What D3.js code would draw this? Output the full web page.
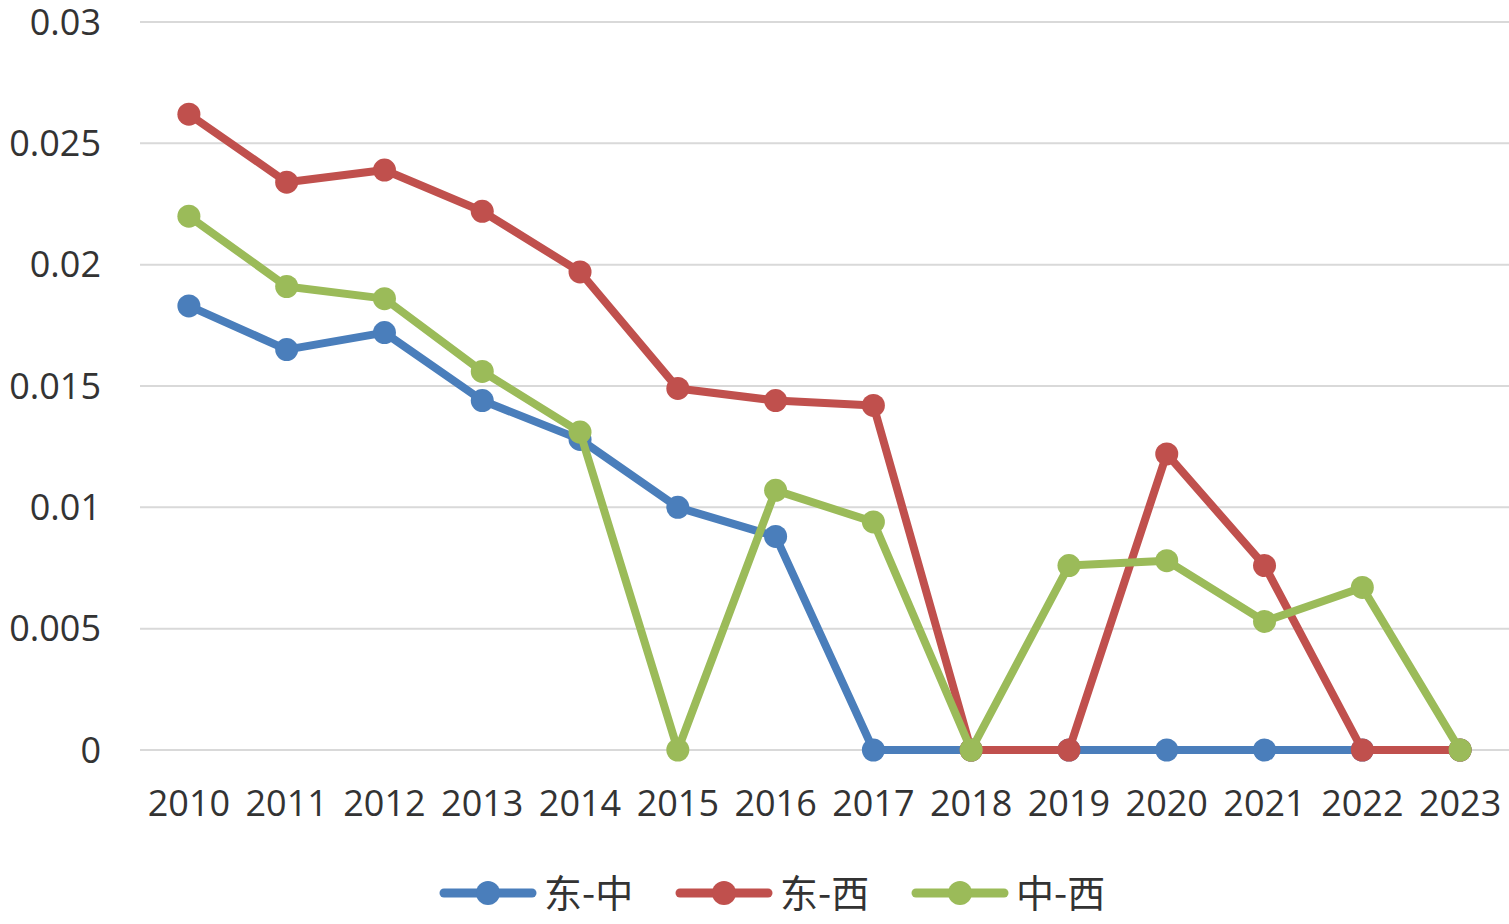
<!DOCTYPE html>
<html><head><meta charset="utf-8">
<script src="https://cdn.jsdelivr.net/npm/d3@7"></script>
<style>body{margin:0;background:#fff}svg{display:block}</style>
</head><body><svg id="c" width="1509" height="924"></svg>
<script>
const years = ["2010","2011","2012","2013","2014","2015","2016","2017","2018","2019","2020","2021","2022","2023"];
const eastCentral = [0.0183,0.0165,0.0172,0.0144,0.0128,0.0100,0.0088,0,0,0,0,0,0,0];
const eastWest = [0.0262,0.0234,0.0239,0.0222,0.0197,0.0149,0.0144,0.0142,0,0,0.0122,0.0076,0,0];
const centralWest = [0.0220,0.0191,0.0186,0.0156,0.0131,0,0.0107,0.0094,0,0.0076,0.0078,0.0053,0.0067,0];
const seriesNames = ["东-中","东-西","中-西"];
const colors = ["#4a7ebb","#c0504d","#9bbb59"];
const yTicks = [0,0.005,0.01,0.015,0.02,0.025,0.03];
const yTickLabels = ["0","0.005","0.01","0.015","0.02","0.025","0.03"];

const svg = d3.select("#c");
const x = d3.scaleBand().domain(years).range([140,1509]);
const y = d3.scaleLinear().domain([0,0.03]).range([750,22]);
const font = "'Open Sans', 'Noto Sans', sans-serif";

svg.append("g").selectAll("line").data(yTicks).join("line")
  .attr("x1",140).attr("x2",1509).attr("y1",d=>y(d)).attr("y2",d=>y(d))
  .attr("stroke","#d9d9d9").attr("stroke-width",2);

svg.append("g").selectAll("text").data(yTicks).join("text")
  .attr("x",101).attr("y",d=>y(d)).attr("dy","0.35em").attr("text-anchor","end")
  .attr("font-family",font).attr("font-size",36).attr("fill","#333")
  .text((d,i)=>yTickLabels[i]);

svg.append("g").selectAll("text").data(years).join("text")
  .attr("x",d=>x(d)+x.bandwidth()/2).attr("y",803).attr("dy","0.35em").attr("text-anchor","middle")
  .attr("font-family",font).attr("font-size",36).attr("fill","#333")
  .text(d=>d);

const data = [eastCentral,eastWest,centralWest];
const line = d3.line().x((d,i)=>x(years[i])+x.bandwidth()/2).y(d=>y(d));
data.forEach((s,k)=>{
  const g = svg.append("g");
  g.append("path").attr("d",line(s)).attr("fill","none").attr("stroke",colors[k])
    .attr("stroke-width",8).attr("stroke-linejoin","round");
  g.selectAll("circle").data(s).join("circle")
    .attr("cx",(d,i)=>x(years[i])+x.bandwidth()/2).attr("cy",d=>y(d)).attr("r",11.5)
    .attr("fill",colors[k]);
});

const legX = [440,676,912];
const lg = svg.append("g");
seriesNames.forEach((n,k)=>{
  const g = lg.append("g").attr("transform",`translate(${legX[k]},893)`);
  g.append("line").attr("x1",4).attr("x2",92).attr("stroke",colors[k]).attr("stroke-width",9).attr("stroke-linecap","round");
  g.append("circle").attr("cx",48).attr("r",12).attr("fill",colors[k]);
  g.append("text").attr("x",104).attr("dy","0.36em").attr("font-family","'Noto Sans CJK SC', sans-serif")
    .attr("font-size",38).attr("fill","#333").text(n);
});
</script></body></html>
